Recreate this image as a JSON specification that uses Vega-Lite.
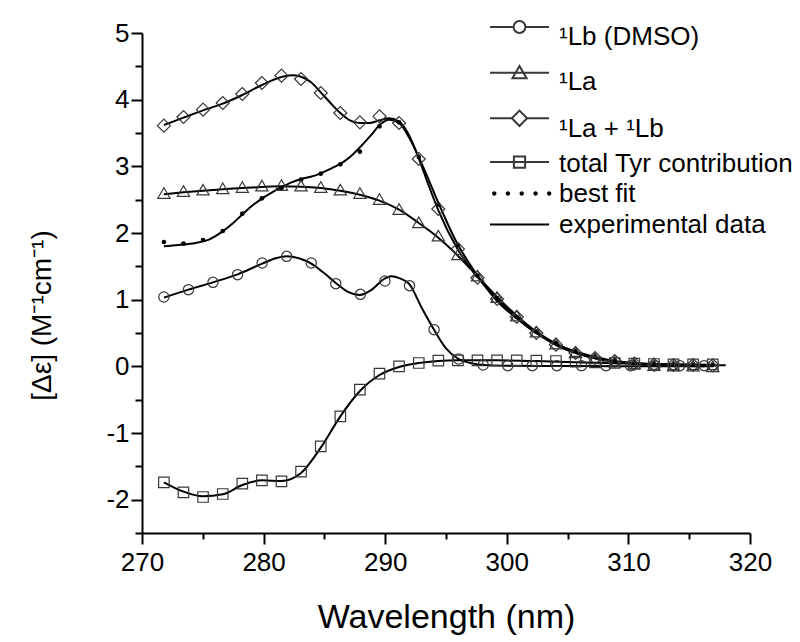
{
  "$schema": "https://vega.github.io/schema/vega-lite/v6.json",
  "width": 608,
  "height": 500,
  "autosize": {"type": "none"},
  "padding": {"left": 142, "top": 33, "right": 50, "bottom": 109},
  "background": "white",
  "config": {"view": {"stroke": null}, "font": "Liberation Sans"},
  "datasets": {
    "curves": [
      {"s": "¹Lb (DMSO)", "x": 271.8, "y": 1.03}, {"s": "¹Lb (DMSO)", "x": 273.82, "y": 1.15}, {"s": "¹Lb (DMSO)", "x": 275.84, "y": 1.26}, {"s": "¹Lb (DMSO)", "x": 277.86, "y": 1.38}, {"s": "¹Lb (DMSO)", "x": 279.88, "y": 1.54}, {"s": "¹Lb (DMSO)", "x": 281.0, "y": 1.62}, {"s": "¹Lb (DMSO)", "x": 281.9, "y": 1.65}, {"s": "¹Lb (DMSO)", "x": 282.9, "y": 1.62}, {"s": "¹Lb (DMSO)", "x": 283.92, "y": 1.54}, {"s": "¹Lb (DMSO)", "x": 284.9, "y": 1.41}, {"s": "¹Lb (DMSO)", "x": 285.94, "y": 1.25}, {"s": "¹Lb (DMSO)", "x": 286.9, "y": 1.12}, {"s": "¹Lb (DMSO)", "x": 287.9, "y": 1.07}, {"s": "¹Lb (DMSO)", "x": 288.9, "y": 1.15}, {"s": "¹Lb (DMSO)", "x": 289.9, "y": 1.31}, {"s": "¹Lb (DMSO)", "x": 290.5, "y": 1.35}, {"s": "¹Lb (DMSO)", "x": 291.2, "y": 1.32}, {"s": "¹Lb (DMSO)", "x": 292.0, "y": 1.23}, {"s": "¹Lb (DMSO)", "x": 293.0, "y": 0.88}, {"s": "¹Lb (DMSO)", "x": 294.02, "y": 0.55}, {"s": "¹Lb (DMSO)", "x": 295.0, "y": 0.27}, {"s": "¹Lb (DMSO)", "x": 296.04, "y": 0.11}, {"s": "¹Lb (DMSO)", "x": 297.0, "y": 0.05}, {"s": "¹Lb (DMSO)", "x": 298.06, "y": 0.02}, {"s": "¹Lb (DMSO)", "x": 300.08, "y": 0.01}, {"s": "¹Lb (DMSO)", "x": 304.0, "y": 0.005}, {"s": "¹Lb (DMSO)", "x": 310.0, "y": 0.0}, {"s": "¹Lb (DMSO)", "x": 316.24, "y": 0.0},
      {"s": "¹La", "x": 271.8, "y": 2.58}, {"s": "¹La", "x": 273.41, "y": 2.61}, {"s": "¹La", "x": 275.02, "y": 2.635}, {"s": "¹La", "x": 276.64, "y": 2.655}, {"s": "¹La", "x": 278.25, "y": 2.675}, {"s": "¹La", "x": 279.86, "y": 2.69}, {"s": "¹La", "x": 281.47, "y": 2.7}, {"s": "¹La", "x": 283.08, "y": 2.695}, {"s": "¹La", "x": 284.7, "y": 2.675}, {"s": "¹La", "x": 286.31, "y": 2.635}, {"s": "¹La", "x": 287.92, "y": 2.575}, {"s": "¹La", "x": 289.53, "y": 2.485}, {"s": "¹La", "x": 291.14, "y": 2.35}, {"s": "¹La", "x": 292.76, "y": 2.15}, {"s": "¹La", "x": 294.37, "y": 1.93}, {"s": "¹La", "x": 295.98, "y": 1.66}, {"s": "¹La", "x": 297.59, "y": 1.35}, {"s": "¹La", "x": 299.2, "y": 1.04}, {"s": "¹La", "x": 300.82, "y": 0.76}, {"s": "¹La", "x": 302.43, "y": 0.52}, {"s": "¹La", "x": 304.04, "y": 0.34}, {"s": "¹La", "x": 305.65, "y": 0.21}, {"s": "¹La", "x": 307.26, "y": 0.12}, {"s": "¹La", "x": 308.88, "y": 0.07}, {"s": "¹La", "x": 310.49, "y": 0.04}, {"s": "¹La", "x": 312.1, "y": 0.02}, {"s": "¹La", "x": 313.71, "y": 0.01}, {"s": "¹La", "x": 316.94, "y": 0.0},
      {"s": "¹La + ¹Lb", "x": 271.8, "y": 3.62}, {"s": "¹La + ¹Lb", "x": 273.41, "y": 3.73}, {"s": "¹La + ¹Lb", "x": 275.02, "y": 3.84}, {"s": "¹La + ¹Lb", "x": 276.64, "y": 3.94}, {"s": "¹La + ¹Lb", "x": 278.25, "y": 4.07}, {"s": "¹La + ¹Lb", "x": 279.86, "y": 4.22}, {"s": "¹La + ¹Lb", "x": 281.47, "y": 4.34}, {"s": "¹La + ¹Lb", "x": 282.3, "y": 4.365}, {"s": "¹La + ¹Lb", "x": 283.08, "y": 4.345}, {"s": "¹La + ¹Lb", "x": 283.9, "y": 4.26}, {"s": "¹La + ¹Lb", "x": 284.7, "y": 4.11}, {"s": "¹La + ¹Lb", "x": 285.5, "y": 3.95}, {"s": "¹La + ¹Lb", "x": 286.31, "y": 3.8}, {"s": "¹La + ¹Lb", "x": 287.1, "y": 3.69}, {"s": "¹La + ¹Lb", "x": 287.92, "y": 3.65}, {"s": "¹La + ¹Lb", "x": 288.7, "y": 3.65}, {"s": "¹La + ¹Lb", "x": 289.53, "y": 3.69}, {"s": "¹La + ¹Lb", "x": 290.3, "y": 3.72}, {"s": "¹La + ¹Lb", "x": 291.14, "y": 3.67}, {"s": "¹La + ¹Lb", "x": 291.95, "y": 3.47}, {"s": "¹La + ¹Lb", "x": 292.76, "y": 3.12}, {"s": "¹La + ¹Lb", "x": 293.56, "y": 2.72}, {"s": "¹La + ¹Lb", "x": 294.37, "y": 2.34}, {"s": "¹La + ¹Lb", "x": 295.98, "y": 1.75}, {"s": "¹La + ¹Lb", "x": 297.59, "y": 1.34}, {"s": "¹La + ¹Lb", "x": 299.2, "y": 1.01}, {"s": "¹La + ¹Lb", "x": 300.82, "y": 0.73}, {"s": "¹La + ¹Lb", "x": 302.43, "y": 0.5}, {"s": "¹La + ¹Lb", "x": 304.04, "y": 0.32}, {"s": "¹La + ¹Lb", "x": 305.65, "y": 0.2}, {"s": "¹La + ¹Lb", "x": 307.26, "y": 0.12}, {"s": "¹La + ¹Lb", "x": 308.88, "y": 0.07}, {"s": "¹La + ¹Lb", "x": 310.49, "y": 0.04}, {"s": "¹La + ¹Lb", "x": 312.1, "y": 0.025}, {"s": "¹La + ¹Lb", "x": 313.71, "y": 0.02}, {"s": "¹La + ¹Lb", "x": 315.32, "y": 0.015}, {"s": "¹La + ¹Lb", "x": 316.94, "y": 0.01},
      {"s": "total Tyr contribution", "x": 271.8, "y": -1.74}, {"s": "total Tyr contribution", "x": 273.41, "y": -1.88}, {"s": "total Tyr contribution", "x": 275.02, "y": -1.95}, {"s": "total Tyr contribution", "x": 276.64, "y": -1.92}, {"s": "total Tyr contribution", "x": 278.25, "y": -1.78}, {"s": "total Tyr contribution", "x": 279.86, "y": -1.71}, {"s": "total Tyr contribution", "x": 281.47, "y": -1.72}, {"s": "total Tyr contribution", "x": 283.08, "y": -1.6}, {"s": "total Tyr contribution", "x": 284.7, "y": -1.22}, {"s": "total Tyr contribution", "x": 286.31, "y": -0.75}, {"s": "total Tyr contribution", "x": 287.92, "y": -0.37}, {"s": "total Tyr contribution", "x": 289.53, "y": -0.13}, {"s": "total Tyr contribution", "x": 291.14, "y": -0.01}, {"s": "total Tyr contribution", "x": 292.76, "y": 0.05}, {"s": "total Tyr contribution", "x": 294.37, "y": 0.08}, {"s": "total Tyr contribution", "x": 295.98, "y": 0.09}, {"s": "total Tyr contribution", "x": 299.2, "y": 0.09}, {"s": "total Tyr contribution", "x": 302.43, "y": 0.08}, {"s": "total Tyr contribution", "x": 305.65, "y": 0.06}, {"s": "total Tyr contribution", "x": 308.88, "y": 0.045}, {"s": "total Tyr contribution", "x": 312.1, "y": 0.035}, {"s": "total Tyr contribution", "x": 316.94, "y": 0.025},
      {"s": "experimental data", "x": 271.8, "y": 1.8}, {"s": "experimental data", "x": 273.0, "y": 1.82}, {"s": "experimental data", "x": 274.4, "y": 1.85}, {"s": "experimental data", "x": 275.5, "y": 1.9}, {"s": "experimental data", "x": 276.6, "y": 2.02}, {"s": "experimental data", "x": 277.5, "y": 2.15}, {"s": "experimental data", "x": 278.2, "y": 2.27}, {"s": "experimental data", "x": 279.0, "y": 2.4}, {"s": "experimental data", "x": 279.9, "y": 2.52}, {"s": "experimental data", "x": 280.8, "y": 2.62}, {"s": "experimental data", "x": 281.5, "y": 2.69}, {"s": "experimental data", "x": 282.3, "y": 2.76}, {"s": "experimental data", "x": 283.1, "y": 2.81}, {"s": "experimental data", "x": 284.2, "y": 2.86}, {"s": "experimental data", "x": 285.0, "y": 2.92}, {"s": "experimental data", "x": 285.7, "y": 2.98}, {"s": "experimental data", "x": 286.6, "y": 3.07}, {"s": "experimental data", "x": 287.4, "y": 3.19}, {"s": "experimental data", "x": 288.1, "y": 3.32}, {"s": "experimental data", "x": 288.8, "y": 3.46}, {"s": "experimental data", "x": 289.6, "y": 3.63}, {"s": "experimental data", "x": 290.3, "y": 3.7}, {"s": "experimental data", "x": 291.2, "y": 3.64}, {"s": "experimental data", "x": 292.0, "y": 3.42}, {"s": "experimental data", "x": 293.1, "y": 3.0}, {"s": "experimental data", "x": 294.5, "y": 2.4}, {"s": "experimental data", "x": 295.9, "y": 1.85}, {"s": "experimental data", "x": 297.0, "y": 1.52}, {"s": "experimental data", "x": 298.0, "y": 1.25}, {"s": "experimental data", "x": 299.2, "y": 0.98}, {"s": "experimental data", "x": 300.8, "y": 0.72}, {"s": "experimental data", "x": 302.4, "y": 0.5}, {"s": "experimental data", "x": 304.0, "y": 0.34}, {"s": "experimental data", "x": 305.7, "y": 0.22}, {"s": "experimental data", "x": 307.3, "y": 0.14}, {"s": "experimental data", "x": 308.9, "y": 0.08}, {"s": "experimental data", "x": 310.5, "y": 0.05}, {"s": "experimental data", "x": 312.1, "y": 0.035}, {"s": "experimental data", "x": 314.0, "y": 0.025}, {"s": "experimental data", "x": 316.0, "y": 0.02}, {"s": "experimental data", "x": 318.0, "y": 0.015}
    ],
    "markers": [
      {"s": "¹Lb (DMSO)", "x": 271.8, "y": 1.04}, {"s": "¹Lb (DMSO)", "x": 273.82, "y": 1.15}, {"s": "¹Lb (DMSO)", "x": 275.84, "y": 1.26}, {"s": "¹Lb (DMSO)", "x": 277.86, "y": 1.375}, {"s": "¹Lb (DMSO)", "x": 279.88, "y": 1.55}, {"s": "¹Lb (DMSO)", "x": 281.9, "y": 1.65}, {"s": "¹Lb (DMSO)", "x": 283.92, "y": 1.55}, {"s": "¹Lb (DMSO)", "x": 285.94, "y": 1.24}, {"s": "¹Lb (DMSO)", "x": 287.96, "y": 1.08}, {"s": "¹Lb (DMSO)", "x": 289.98, "y": 1.28}, {"s": "¹Lb (DMSO)", "x": 292.0, "y": 1.21}, {"s": "¹Lb (DMSO)", "x": 294.02, "y": 0.55}, {"s": "¹Lb (DMSO)", "x": 296.04, "y": 0.11}, {"s": "¹Lb (DMSO)", "x": 298.06, "y": 0.02}, {"s": "¹Lb (DMSO)", "x": 300.08, "y": 0.01}, {"s": "¹Lb (DMSO)", "x": 302.1, "y": 0.01}, {"s": "¹Lb (DMSO)", "x": 304.12, "y": 0.01}, {"s": "¹Lb (DMSO)", "x": 306.14, "y": 0.01}, {"s": "¹Lb (DMSO)", "x": 308.16, "y": 0.01}, {"s": "¹Lb (DMSO)", "x": 310.18, "y": 0.01}, {"s": "¹Lb (DMSO)", "x": 312.2, "y": 0.01}, {"s": "¹Lb (DMSO)", "x": 314.22, "y": 0.01}, {"s": "¹Lb (DMSO)", "x": 316.24, "y": 0.01},
      {"s": "¹La", "x": 271.8, "y": 2.6}, {"s": "¹La", "x": 273.41, "y": 2.63}, {"s": "¹La", "x": 275.02, "y": 2.65}, {"s": "¹La", "x": 276.64, "y": 2.67}, {"s": "¹La", "x": 278.25, "y": 2.69}, {"s": "¹La", "x": 279.86, "y": 2.71}, {"s": "¹La", "x": 281.47, "y": 2.72}, {"s": "¹La", "x": 283.08, "y": 2.71}, {"s": "¹La", "x": 284.7, "y": 2.69}, {"s": "¹La", "x": 286.31, "y": 2.65}, {"s": "¹La", "x": 287.92, "y": 2.6}, {"s": "¹La", "x": 289.53, "y": 2.51}, {"s": "¹La", "x": 291.14, "y": 2.36}, {"s": "¹La", "x": 292.76, "y": 2.16}, {"s": "¹La", "x": 294.37, "y": 1.96}, {"s": "¹La", "x": 295.98, "y": 1.68}, {"s": "¹La", "x": 297.59, "y": 1.36}, {"s": "¹La", "x": 299.2, "y": 1.04}, {"s": "¹La", "x": 300.82, "y": 0.76}, {"s": "¹La", "x": 302.43, "y": 0.52}, {"s": "¹La", "x": 304.04, "y": 0.34}, {"s": "¹La", "x": 305.65, "y": 0.21}, {"s": "¹La", "x": 307.26, "y": 0.12}, {"s": "¹La", "x": 308.88, "y": 0.07}, {"s": "¹La", "x": 310.49, "y": 0.04}, {"s": "¹La", "x": 312.1, "y": 0.02}, {"s": "¹La", "x": 313.71, "y": 0.01}, {"s": "¹La", "x": 315.32, "y": 0.01}, {"s": "¹La", "x": 316.94, "y": 0.0},
      {"s": "¹La + ¹Lb", "x": 271.8, "y": 3.61}, {"s": "¹La + ¹Lb", "x": 273.41, "y": 3.74}, {"s": "¹La + ¹Lb", "x": 275.02, "y": 3.85}, {"s": "¹La + ¹Lb", "x": 276.64, "y": 3.95}, {"s": "¹La + ¹Lb", "x": 278.25, "y": 4.085}, {"s": "¹La + ¹Lb", "x": 279.86, "y": 4.25}, {"s": "¹La + ¹Lb", "x": 281.47, "y": 4.36}, {"s": "¹La + ¹Lb", "x": 283.08, "y": 4.31}, {"s": "¹La + ¹Lb", "x": 284.7, "y": 4.1}, {"s": "¹La + ¹Lb", "x": 286.31, "y": 3.8}, {"s": "¹La + ¹Lb", "x": 287.92, "y": 3.66}, {"s": "¹La + ¹Lb", "x": 289.53, "y": 3.75}, {"s": "¹La + ¹Lb", "x": 291.14, "y": 3.65}, {"s": "¹La + ¹Lb", "x": 292.76, "y": 3.11}, {"s": "¹La + ¹Lb", "x": 294.37, "y": 2.36}, {"s": "¹La + ¹Lb", "x": 295.98, "y": 1.76}, {"s": "¹La + ¹Lb", "x": 297.59, "y": 1.33}, {"s": "¹La + ¹Lb", "x": 299.2, "y": 1.01}, {"s": "¹La + ¹Lb", "x": 300.82, "y": 0.74}, {"s": "¹La + ¹Lb", "x": 302.43, "y": 0.5}, {"s": "¹La + ¹Lb", "x": 304.04, "y": 0.325}, {"s": "¹La + ¹Lb", "x": 305.65, "y": 0.2}, {"s": "¹La + ¹Lb", "x": 307.26, "y": 0.125}, {"s": "¹La + ¹Lb", "x": 308.88, "y": 0.08}, {"s": "¹La + ¹Lb", "x": 310.49, "y": 0.04}, {"s": "¹La + ¹Lb", "x": 312.1, "y": 0.025}, {"s": "¹La + ¹Lb", "x": 313.71, "y": 0.02}, {"s": "¹La + ¹Lb", "x": 315.32, "y": 0.02}, {"s": "¹La + ¹Lb", "x": 316.94, "y": 0.015},
      {"s": "total Tyr contribution", "x": 271.8, "y": -1.74}, {"s": "total Tyr contribution", "x": 273.41, "y": -1.89}, {"s": "total Tyr contribution", "x": 275.02, "y": -1.96}, {"s": "total Tyr contribution", "x": 276.64, "y": -1.915}, {"s": "total Tyr contribution", "x": 278.25, "y": -1.76}, {"s": "total Tyr contribution", "x": 279.86, "y": -1.71}, {"s": "total Tyr contribution", "x": 281.47, "y": -1.725}, {"s": "total Tyr contribution", "x": 283.08, "y": -1.58}, {"s": "total Tyr contribution", "x": 284.7, "y": -1.2}, {"s": "total Tyr contribution", "x": 286.31, "y": -0.75}, {"s": "total Tyr contribution", "x": 287.92, "y": -0.35}, {"s": "total Tyr contribution", "x": 289.53, "y": -0.11}, {"s": "total Tyr contribution", "x": 291.14, "y": 0.0}, {"s": "total Tyr contribution", "x": 292.76, "y": 0.05}, {"s": "total Tyr contribution", "x": 294.37, "y": 0.085}, {"s": "total Tyr contribution", "x": 295.98, "y": 0.09}, {"s": "total Tyr contribution", "x": 297.59, "y": 0.09}, {"s": "total Tyr contribution", "x": 299.2, "y": 0.09}, {"s": "total Tyr contribution", "x": 300.82, "y": 0.09}, {"s": "total Tyr contribution", "x": 302.43, "y": 0.085}, {"s": "total Tyr contribution", "x": 304.04, "y": 0.08}, {"s": "total Tyr contribution", "x": 305.65, "y": 0.07}, {"s": "total Tyr contribution", "x": 307.26, "y": 0.06}, {"s": "total Tyr contribution", "x": 308.88, "y": 0.05}, {"s": "total Tyr contribution", "x": 310.49, "y": 0.04}, {"s": "total Tyr contribution", "x": 312.1, "y": 0.035}, {"s": "total Tyr contribution", "x": 313.71, "y": 0.03}, {"s": "total Tyr contribution", "x": 315.32, "y": 0.03}, {"s": "total Tyr contribution", "x": 316.94, "y": 0.03},
      {"s": "best fit", "x": 271.8, "y": 1.865}, {"s": "best fit", "x": 273.41, "y": 1.84}, {"s": "best fit", "x": 275.02, "y": 1.895}, {"s": "best fit", "x": 276.64, "y": 2.03}, {"s": "best fit", "x": 278.25, "y": 2.29}, {"s": "best fit", "x": 279.86, "y": 2.52}, {"s": "best fit", "x": 281.47, "y": 2.67}, {"s": "best fit", "x": 283.08, "y": 2.8}, {"s": "best fit", "x": 284.7, "y": 2.89}, {"s": "best fit", "x": 286.31, "y": 3.03}, {"s": "best fit", "x": 287.92, "y": 3.22}, {"s": "best fit", "x": 289.53, "y": 3.6}, {"s": "best fit", "x": 291.14, "y": 3.66}, {"s": "best fit", "x": 292.76, "y": 3.14}, {"s": "best fit", "x": 294.37, "y": 2.43}, {"s": "best fit", "x": 295.98, "y": 1.82}, {"s": "best fit", "x": 297.59, "y": 1.36}, {"s": "best fit", "x": 299.2, "y": 1.02}, {"s": "best fit", "x": 300.82, "y": 0.74}, {"s": "best fit", "x": 302.43, "y": 0.52}, {"s": "best fit", "x": 304.04, "y": 0.35}, {"s": "best fit", "x": 305.65, "y": 0.23}, {"s": "best fit", "x": 307.26, "y": 0.15}, {"s": "best fit", "x": 308.88, "y": 0.09}, {"s": "best fit", "x": 310.49, "y": 0.06}, {"s": "best fit", "x": 312.1, "y": 0.04}, {"s": "best fit", "x": 313.71, "y": 0.03}, {"s": "best fit", "x": 315.32, "y": 0.025}, {"s": "best fit", "x": 316.94, "y": 0.02}
    ],
    "zero": [{"y": 0}]
  },
  "encoding": {
    "x": {
      "field": "x", "type": "quantitative",
      "scale": {"domain": [270, 320], "nice": false, "zero": false},
      "axis": {
        "values": [270, 275, 280, 285, 290, 295, 300, 305, 310, 315, 320],
        "labelExpr": "datum.value % 10 === 0 ? toString(datum.value) : ''",
        "tickSize": {"condition": {"test": "datum.value % 10 !== 0", "value": 6}, "value": 11},
        "grid": false, "domainColor": "black", "domainWidth": 2, "tickColor": "black", "tickWidth": 2,
        "labelFont": "Liberation Sans", "labelFontSize": 26, "labelColor": "black", "labelPadding": 5,
        "labelFlush": false, "labelOverlap": false,
        "title": "Wavelength (nm)", "titleFont": "Liberation Sans", "titleFontSize": 34, "titleFontWeight": "normal",
        "titleColor": "black", "titleBaseline": "alphabetic", "titleY": 94
      }
    },
    "y": {
      "field": "y", "type": "quantitative",
      "scale": {"domain": [-2.5, 5], "nice": false, "zero": false},
      "axis": {
        "values": [-2.5, -2, -1.5, -1, -0.5, 0, 0.5, 1, 1.5, 2, 2.5, 3, 3.5, 4, 4.5, 5],
        "labelExpr": "datum.value % 1 === 0 ? toString(datum.value) : ''",
        "tickSize": {"condition": {"test": "datum.value % 1 !== 0", "value": 7}, "value": 11},
        "grid": false, "domainColor": "black", "domainWidth": 2, "tickColor": "black", "tickWidth": 2,
        "labelFont": "Liberation Sans", "labelFontSize": 26, "labelColor": "black", "labelPadding": 2,
        "labelFlush": false, "labelOverlap": false,
        "title": "[Δε] (M⁻¹cm⁻¹)", "titleFont": "Liberation Sans", "titleFontSize": 28, "titleFontWeight": "normal",
        "titleColor": "black", "titleBaseline": "alphabetic", "titleAngle": 270, "titleAlign": "center",
        "titleX": -92, "titleY": 282
      }
    }
  },
  "layer": [
    {
      "data": {"name": "zero"},
      "mark": {"type": "rule", "color": "black", "strokeWidth": 2},
      "encoding": {"x": {"datum": 270}, "x2": {"datum": 320}}
    },
    {
      "data": {"name": "curves"},
      "transform": [{"filter": "datum.s !== 'experimental data'"}],
      "mark": {"type": "line", "interpolate": "monotone", "color": "black", "strokeWidth": 2},
      "encoding": {"detail": {"field": "s", "type": "nominal"}}
    },
    {
      "data": {"name": "curves"},
      "transform": [{"filter": "datum.s === 'experimental data'"}],
      "mark": {"type": "line", "interpolate": "monotone", "strokeWidth": 2},
      "encoding": {
        "color": {"field": "s", "type": "nominal", "scale": {"range": ["black"]},
          "legend": {"orient": "none", "legendX": 347, "legendY": 161, "title": null, "padding": 0,
            "symbolType": "M-1,0H1", "symbolSize": 3481, "symbolStrokeWidth": 2,
            "labelFont": "Liberation Sans", "labelFontSize": 26, "labelColor": "black", "labelOffset": 9, "labelLimit": 400, "labelBaseline": "middle"}}
      }
    },
    {
      "data": {"name": "markers"},
      "transform": [{"filter": "datum.s === 'best fit'"}],
      "mark": {"type": "point", "filled": true, "shape": "circle", "size": 22, "opacity": 1},
      "encoding": {
        "color": {"field": "s", "type": "nominal", "scale": {"range": ["black"]},
          "legend": {"orient": "none", "legendX": 347, "legendY": 130, "title": null, "padding": 0,
            "symbolType": "M-0.93,0A0.075,0.075,0,1,1,-0.93,0.001ZM-0.47,0A0.075,0.075,0,1,1,-0.47,0.001ZM0,0A0.075,0.075,0,1,1,0,0.001ZM0.47,0A0.075,0.075,0,1,1,0.47,0.001ZM0.93,0A0.075,0.075,0,1,1,0.93,0.001Z",
            "symbolSize": 3481,
            "labelFont": "Liberation Sans", "labelFontSize": 26, "labelColor": "black", "labelOffset": 9, "labelLimit": 400, "labelBaseline": "middle"}}
      }
    },
    {
      "data": {"name": "markers"},
      "transform": [{"filter": "datum.s === 'total Tyr contribution'"}],
      "mark": {"type": "point", "filled": false, "shape": "square", "size": 110, "strokeWidth": 1.2, "opacity": 1},
      "encoding": {
        "color": {"field": "s", "type": "nominal", "scale": {"range": ["#383838"]},
          "legend": {"orient": "none", "legendX": 347, "legendY": 100, "title": null, "padding": 0,
            "symbolType": "M-1,-0.05H1M-0.19,-0.24H0.19V0.14H-0.19Z", "symbolSize": 3481, "symbolStrokeWidth": 2,
            "labelFont": "Liberation Sans", "labelFontSize": 26, "labelColor": "black", "labelOffset": 9, "labelLimit": 400, "labelBaseline": "middle"}}
      }
    },
    {
      "data": {"name": "markers"},
      "transform": [{"filter": "datum.s === '¹La + ¹Lb'"}],
      "mark": {"type": "point", "filled": false, "shape": "diamond", "size": 170, "strokeWidth": 1.2, "opacity": 1},
      "encoding": {
        "color": {"field": "s", "type": "nominal", "scale": {"range": ["#383838"]},
          "legend": {"orient": "none", "legendX": 347, "legendY": 65, "title": null, "padding": 0,
            "symbolType": "M-1,-0.345H-0.26M0.26,-0.345H1M0,-0.605L0.26,-0.345L0,-0.085L-0.26,-0.345Z", "symbolSize": 3481, "symbolStrokeWidth": 2,
            "labelFont": "Liberation Sans", "labelFontSize": 26, "labelColor": "black", "labelOffset": 9, "labelLimit": 400, "labelBaseline": "middle"}}
      }
    },
    {
      "data": {"name": "markers"},
      "transform": [{"filter": "datum.s === '¹La'"}],
      "mark": {"type": "point", "filled": false, "shape": "triangle-up", "size": 150, "strokeWidth": 1.2, "opacity": 1},
      "encoding": {
        "color": {"field": "s", "type": "nominal", "scale": {"range": ["#383838"]},
          "legend": {"orient": "none", "legendX": 347, "legendY": 18.5, "title": null, "padding": 0,
            "symbolType": "M-1,-0.315H1M0,-0.545L0.24,-0.125L-0.24,-0.125Z", "symbolSize": 3481, "symbolStrokeWidth": 2,
            "labelFont": "Liberation Sans", "labelFontSize": 26, "labelColor": "black", "labelOffset": 9, "labelLimit": 400, "labelBaseline": "middle"}}
      }
    },
    {
      "data": {"name": "markers"},
      "transform": [{"filter": "datum.s === '¹Lb (DMSO)'"}],
      "mark": {"type": "point", "filled": false, "shape": "circle", "size": 105, "strokeWidth": 1.2, "opacity": 1},
      "encoding": {
        "color": {"field": "s", "type": "nominal", "scale": {"range": ["#383838"]},
          "legend": {"orient": "none", "legendX": 347, "legendY": -27, "title": null, "padding": 0,
            "symbolType": "M-1,-0.322H-0.2M0.2,-0.322H1M0.2,-0.322A0.2,0.2,0,1,1,-0.2,-0.322A0.2,0.2,0,1,1,0.2,-0.322", "symbolSize": 3481, "symbolStrokeWidth": 2,
            "labelFont": "Liberation Sans", "labelFontSize": 26, "labelColor": "black", "labelOffset": 9, "labelLimit": 400, "labelBaseline": "middle"}}
      }
    }
  ],
  "resolve": {"scale": {"color": "independent"}, "legend": {"color": "independent"}}
}
